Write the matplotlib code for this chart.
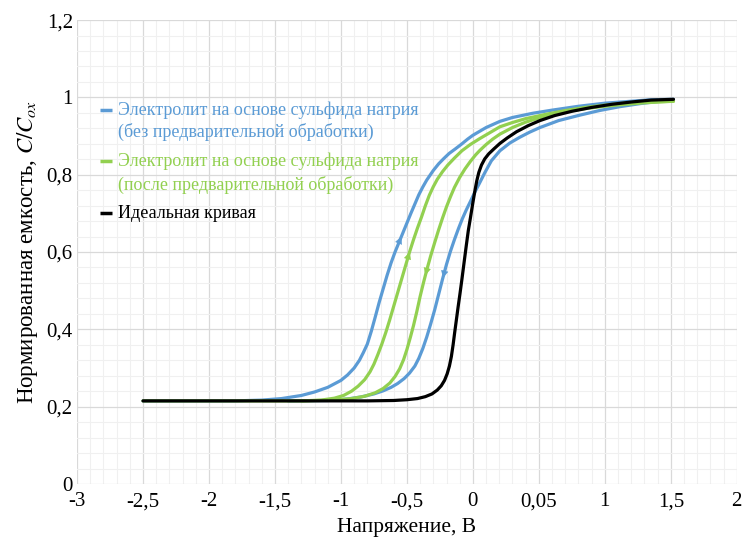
import numpy as np
import matplotlib
matplotlib.use('Agg')
import matplotlib.pyplot as plt
from matplotlib.ticker import MultipleLocator

plt.rcParams['font.family'] = ['Liberation Serif', 'DejaVu Serif']
plt.rcParams['mathtext.fontset'] = 'stix'

BLUE = '#5b9bd5'
GREEN = '#92d050'

# x ticks (label "0,05" at 0.5 kept as printed on the axis)
x_ticks = [-3, -2.5, -2, -1.5, -1, -0.5, 0, 0.5, 1, 1.5, 2]
x_tick_labels = ['-3', '-2,5', '-2', '-1,5', '-1', '-0,5', '0', '0,05', '1', '1,5', '2']
y_ticks = [0, 0.2, 0.4, 0.6, 0.8, 1.0, 1.2]
y_tick_labels = ['0', '0,2', '0,4', '0,6', '0,8', '1', '1,2']

# without pretreatment, forward sweep (going up)
blue_up_x = [-2.5, -1.8, -1.6, -1.45, -1.3, -1.2, -1.1, -1.0, -0.95, -0.9,
             -0.86, -0.83, -0.8, -0.77, -0.74, -0.71, -0.68, -0.65, -0.62, -0.59,
             -0.56, -0.53, -0.5, -0.47, -0.44, -0.41, -0.38, -0.35, -0.32, -0.3,
             -0.26, -0.22, -0.18, -0.136, -0.09, -0.04, 0.0, 0.1, 0.205, 0.3,
             0.455, 0.6, 0.8, 1.0, 1.2, 1.35, 1.52]
blue_up_y = [0.215, 0.215, 0.217, 0.221, 0.229, 0.238, 0.25, 0.268, 0.282, 0.3,
             0.32, 0.34, 0.362, 0.395, 0.432, 0.47, 0.505, 0.54, 0.572, 0.6,
             0.625, 0.65, 0.675, 0.7, 0.724, 0.748, 0.768, 0.786, 0.801, 0.811,
             0.828, 0.842, 0.855, 0.866, 0.878, 0.892, 0.902, 0.922, 0.938, 0.948,
             0.959, 0.967, 0.977, 0.985, 0.99, 0.994, 0.995]
# without pretreatment, reverse sweep (going down), listed by increasing x
blue_dn_x = [-1.4, -1.1, -0.95, -0.85, -0.75, -0.68, -0.62, -0.57, -0.52, -0.48,
             -0.44, -0.41, -0.38, -0.35, -0.32, -0.29, -0.26, -0.23, -0.2, -0.17,
             -0.14, -0.11, -0.08, -0.05, -0.02, 0.015, 0.05, 0.09, 0.14, 0.205,
             0.28, 0.356, 0.43, 0.508, 0.65, 0.81, 0.96, 1.114, 1.27, 1.417, 1.52]
blue_dn_y = [0.215, 0.216, 0.22, 0.225, 0.233, 0.241, 0.25, 0.26, 0.273, 0.287,
             0.305, 0.325, 0.35, 0.38, 0.414, 0.45, 0.49, 0.53, 0.568, 0.602,
             0.632, 0.66, 0.686, 0.709, 0.73, 0.755, 0.778, 0.805, 0.836, 0.862,
             0.882, 0.897, 0.91, 0.922, 0.94, 0.954, 0.966, 0.976, 0.984, 0.99, 0.994]

# after pretreatment, forward sweep
green_up_x = [-2.5, -1.3, -1.15, -1.05, -0.98, -0.92, -0.87, -0.82, -0.78, -0.75,
              -0.72, -0.69, -0.66, -0.63, -0.6, -0.57, -0.54, -0.51, -0.48, -0.45,
              -0.42, -0.39, -0.36, -0.33, -0.3, -0.27, -0.23, -0.19, -0.14, -0.083,
              -0.02, 0.05, 0.12, 0.205, 0.3, 0.4, 0.55, 0.7, 0.85, 1.0,
              1.15, 1.3, 1.52]
green_up_y = [0.215, 0.215, 0.217, 0.222, 0.229, 0.24, 0.253, 0.27, 0.29, 0.31,
              0.335, 0.362, 0.392, 0.425, 0.46, 0.495, 0.53, 0.565, 0.6, 0.632,
              0.662, 0.69, 0.72, 0.747, 0.769, 0.788, 0.808, 0.825, 0.843, 0.862,
              0.878, 0.893, 0.907, 0.924, 0.935, 0.945, 0.956, 0.966, 0.974, 0.98,
              0.985, 0.988, 0.99]
# after pretreatment, reverse sweep, listed by increasing x
green_dn_x = [-1.3, -1.05, -0.92, -0.82, -0.74, -0.68, -0.63, -0.59, -0.555, -0.525,
              -0.5, -0.475, -0.45, -0.425, -0.4, -0.375, -0.35, -0.32, -0.29, -0.26,
              -0.23, -0.2, -0.17, -0.14, -0.1, -0.06, -0.02, 0.02, 0.053, 0.1,
              0.15, 0.205, 0.3, 0.4, 0.55, 0.7, 0.85, 1.0, 1.15, 1.3, 1.52]
green_dn_y = [0.215, 0.217, 0.221, 0.227, 0.236, 0.247, 0.261, 0.278, 0.298, 0.322,
              0.348, 0.378, 0.41, 0.446, 0.485, 0.52, 0.553, 0.59, 0.624, 0.657,
              0.688, 0.717, 0.743, 0.767, 0.793, 0.815, 0.834, 0.851, 0.863, 0.878,
              0.892, 0.905, 0.922, 0.936, 0.952, 0.963, 0.971, 0.977, 0.982, 0.986, 0.99]

# ideal curve
ideal_x = [-2.5, -1.5, -0.8, -0.6, -0.5, -0.42, -0.36, -0.31, -0.27, -0.24,
           -0.215, -0.195, -0.178, -0.163, -0.15, -0.138, -0.125, -0.112, -0.098, -0.083,
           -0.066, -0.05, -0.035, -0.018, 0.0, 0.015, 0.03, 0.045, 0.065, 0.09,
           0.12, 0.16, 0.205, 0.26, 0.33, 0.42, 0.508, 0.62, 0.75, 0.9,
           1.05, 1.2, 1.35, 1.52]
ideal_y = [0.215, 0.215, 0.215, 0.216, 0.218, 0.221, 0.226, 0.233, 0.243, 0.254,
           0.268, 0.285, 0.305, 0.33, 0.36, 0.392, 0.425, 0.458, 0.492, 0.53,
           0.575, 0.617, 0.655, 0.69, 0.728, 0.758, 0.785, 0.806, 0.825, 0.841,
           0.854, 0.867, 0.881, 0.895, 0.911, 0.927, 0.94, 0.953, 0.964, 0.974,
           0.982, 0.988, 0.993, 0.995]

# legend rows: (text, colour, draw a line marker before it)
legend_rows = [
    ('Электролит на основе сульфида натрия', BLUE, True),
    ('(без предварительной обработки)', BLUE, False),
    ('Электролит на основе сульфида натрия', GREEN, True),
    ('(после предварительной обработки)', GREEN, False),
    ('Идеальная кривая', 'black', True),
]
legend_row_y = [0.806, 0.759, 0.696, 0.644, 0.584]


def add_arrow(ax, xs, ys, y_at, color, up=True):
    # small arrowhead on a branch at height y_at, pointing along the sweep
    dy = 0.015 if up else -0.015
    x0 = np.interp(y_at - dy, ys, xs)
    x1 = np.interp(y_at, ys, xs)
    ax.annotate('', xy=(x1, y_at), xytext=(x0, y_at - dy),
                arrowprops=dict(arrowstyle='-|>,head_length=0.6,head_width=0.3',
                                color=color, lw=0.3, mutation_scale=8,
                                shrinkA=0, shrinkB=0))


fig = plt.figure(figsize=(7.45, 5.42), dpi=100)
ax = fig.add_axes([0.1034, 0.107, 0.8856, 0.856])

lw = 2.3
ax.plot(blue_up_x, blue_up_y, color=BLUE, lw=lw, solid_capstyle='round', solid_joinstyle='round')
ax.plot(blue_dn_x, blue_dn_y, color=BLUE, lw=lw, solid_capstyle='round', solid_joinstyle='round')
ax.plot(green_up_x, green_up_y, color=GREEN, lw=lw, solid_capstyle='round', solid_joinstyle='round')
ax.plot(green_dn_x, green_dn_y, color=GREEN, lw=lw, solid_capstyle='round', solid_joinstyle='round')
ax.plot(ideal_x, ideal_y, color='black', lw=lw, solid_capstyle='round', solid_joinstyle='round')

add_arrow(ax, blue_up_x, blue_up_y, 0.64, BLUE, up=True)
add_arrow(ax, green_up_x, green_up_y, 0.60, GREEN, up=True)
add_arrow(ax, green_dn_x, green_dn_y, 0.54, GREEN, up=False)
add_arrow(ax, blue_dn_x, blue_dn_y, 0.533, BLUE, up=False)

ax.set_xlim(-3, 2)
ax.set_ylim(0, 1.2)
ax.set_xticks(x_ticks)
ax.set_xticklabels(x_tick_labels)
ax.set_yticks(y_ticks)
ax.set_yticklabels(y_tick_labels)
ax.xaxis.set_minor_locator(MultipleLocator(0.1))
ax.yaxis.set_minor_locator(MultipleLocator(0.04))
ax.grid(which='major', color='#d9d9d9', lw=0.9)
ax.grid(which='minor', color='#f0f0f0', lw=0.8)
ax.set_axisbelow(True)
for s in ax.spines.values():
    s.set_visible(False)
ax.tick_params(which='both', length=0, labelsize=15)
ax.tick_params(axis='x', pad=6)
ax.tick_params(axis='y', pad=3)

ax.set_xlabel('Напряжение, В', fontsize=15.5, labelpad=5)
ax.set_ylabel(r'Нормированная емкость, $C/C_{ox}$', fontsize=16.5, labelpad=5)

# legend drawn row by row so the marker sits next to the first line
for (txt, col, marker), ry in zip(legend_rows, legend_row_y):
    if marker:
        ax.plot([0.035, 0.053], [ry, ry], transform=ax.transAxes, color=col,
                lw=2.5, solid_capstyle='butt')
    ax.text(0.062, ry, txt, transform=ax.transAxes, color=col, fontsize=13,
            va='center', ha='left')

fig.savefig('out.png', dpi=100)
